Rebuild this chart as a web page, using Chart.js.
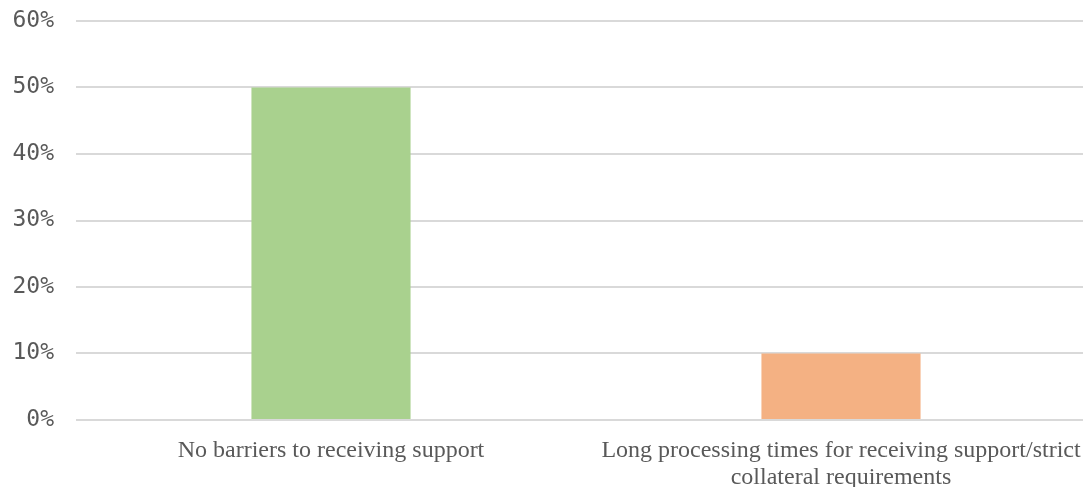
<!DOCTYPE html>
<html>
<head>
<meta charset="utf-8">
<script src="https://cdn.jsdelivr.net/npm/chart.js@4"></script>
<style>
  html, body { margin: 0; padding: 0; overflow: hidden; background: #fff; }
  #wrap { position: absolute; left: 0; top: 0; width: 1096px; height: 487px; }
</style>
</head>
<body>
<div id="wrap"><canvas id="myChart" width="1096" height="487"></canvas></div>
<script>
const ctx = document.getElementById('myChart');
const barriers = [
    'No barriers to receiving support',
    ['Long processing times for receiving support/strict', 'collateral requirements']
];
const shares = [0.50, 0.10];
const yTicks = [0, 0.1, 0.2, 0.3, 0.4, 0.5, 0.6];

const myChart = new Chart(ctx, {
    type: 'bar',
    data: {
        labels: barriers,
        datasets: [{
            data: shares,
            backgroundColor: ['#A9D18E', '#F4B183'],
            categoryPercentage: 1,
            barPercentage: 0.312
        }]
    },
    options: {
        responsive: false,
        animation: false,
        layout: { padding: 0 },
        plugins: {
            legend: { display: false },
            tooltip: { enabled: false }
        },
        scales: {
            x: {
                grid: { display: false, drawTicks: false, tickLength: 0 },
                border: { display: false },
                ticks: {
                    color: '#595959',
                    font: { family: 'Liberation Serif', size: 24, lineHeight: 1.125 },
                    padding: 17,
                    maxRotation: 0,
                    autoSkip: false
                },
                // room under the plot for the two-line labels
                afterFit: s => { s.height = 67; s.paddingRight = 0; }
            },
            y: {
                min: 0,
                max: 0.6,
                afterBuildTicks: axis => { axis.ticks = yTicks.map(v => ({ value: v })); },
                grid: { color: '#D9D9D9', lineWidth: 2, drawTicks: false },
                border: { display: false },
                ticks: {
                    color: '#595959',
                    font: { family: 'DejaVu Sans Mono', size: 23 },
                    padding: 22,
                    callback: v => Math.round(v * 100) + '%'
                },
                afterFit: s => { s.width = 76; s.paddingTop = 21; }
            }
        }
    }
});
</script>
</body>
</html>
